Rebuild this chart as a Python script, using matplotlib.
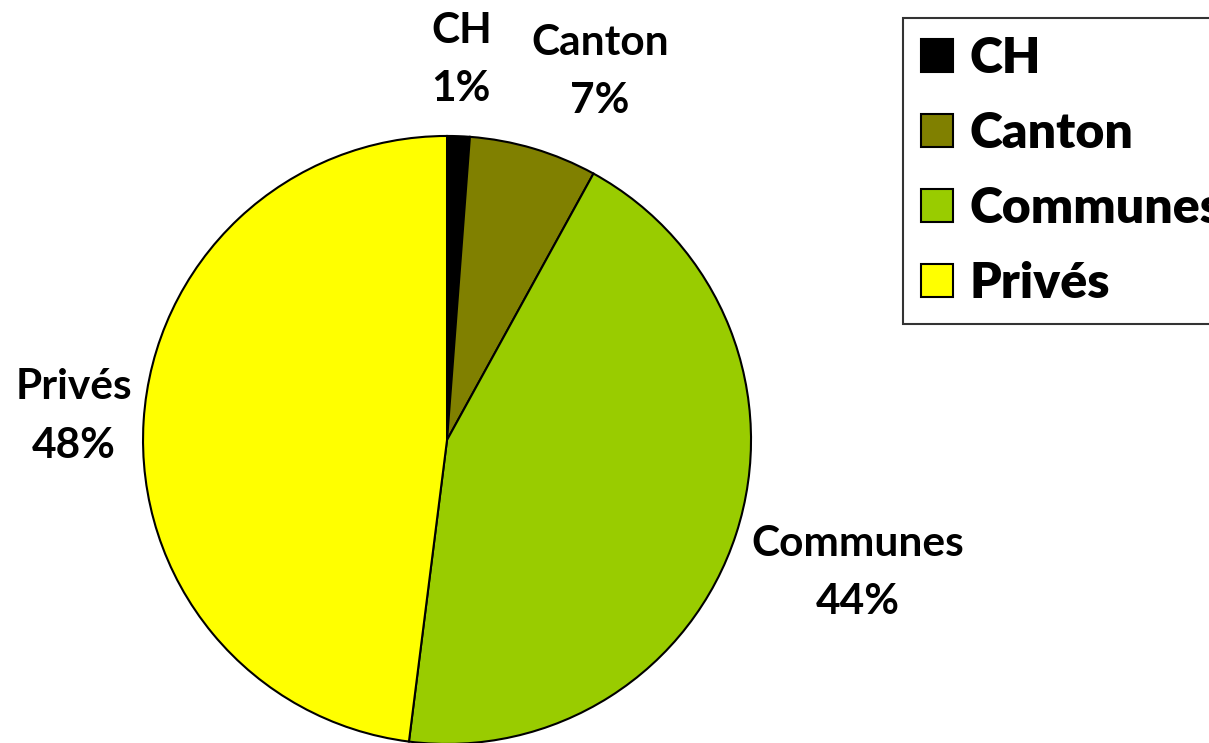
import numpy as np
import matplotlib.pyplot as plt
from matplotlib.patches import Patch

plt.rcParams['font.family'] = ['Lato', 'DejaVu Sans']

categories = ['CH', 'Canton', 'Communes', 'Privés']
shares = [1.2, 6.8, 44.0, 48.0]
colors = ['#000000', '#808000', '#99CC00', '#FFFF00']

# label placement tweaks (distance from centre, angle nudge in degrees)
label_dist = [1.25, 1.31, 1.42, 1.23]
label_nudge = [0, 6, 0, 0]

fig = plt.figure(figsize=(12.09, 7.43), dpi=100)
ax = fig.add_axes([0.1183, -0.0013, 0.5029, 0.8183])

wedges, _ = ax.pie(shares, colors=colors, startangle=90, counterclock=False,
                   radius=1.0, wedgeprops=dict(edgecolor='black', linewidth=1.5))

total = sum(shares)
for w, name, val, d, nudge in zip(wedges, categories, shares, label_dist, label_nudge):
    mid = np.deg2rad((w.theta1 + w.theta2) / 2 - nudge)
    ax.text(d * np.cos(mid), d * np.sin(mid),
            f'{name}\n{round(val / total * 100):.0f}%',
            ha='center', va='center', fontsize=30.5, fontweight='bold',
            linespacing=1.65)

ax.set_xlim(-1, 1)
ax.set_ylim(-1, 1)
ax.set_aspect('equal')
ax.axis('off')

handles = [Patch(facecolor=c, edgecolor='black', linewidth=1.5) for c in colors]
leg = fig.legend(handles, categories, loc='upper left',
                 bbox_to_anchor=(903 / 1209, 1 - 18 / 743),
                 prop=dict(size=36, weight='heavy'), frameon=True,
                 fancybox=False, edgecolor='black', handlelength=0.64,
                 handleheight=0.64, handletextpad=0.33, labelspacing=0.6,
                 borderpad=0.36, borderaxespad=0)
leg.get_frame().set_linewidth(1.5)

fig.savefig('out.png', dpi=100)
